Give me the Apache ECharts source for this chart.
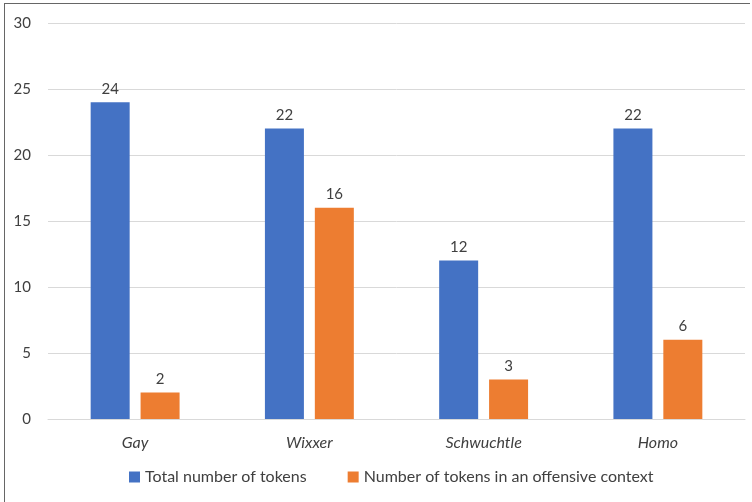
<!DOCTYPE html>
<html>
<head>
<meta charset="utf-8">
<script src="https://cdn.jsdelivr.net/npm/echarts@6/dist/echarts.min.js"></script>
<style>
  html, body { margin: 0; padding: 0; background: #fff; }
  #frame { position: absolute; left: 4px; top: 3px; width: 746px; height: 500px; border-left: 1px solid #666; border-top: 1px solid #666; box-sizing: border-box; }
  #main { position: absolute; left: 0; top: 0; width: 752px; height: 502px; }
</style>
</head>
<body>
<div id="frame"></div>
<div id="main"></div>
<script>
var categories = ['Gay', 'Wixxer', 'Schwuchtle', 'Homo'];
var totalTokens = [24, 22, 12, 22];
var offensiveTokens = [2, 16, 3, 6];
var seriesNames = ['Total number of tokens', 'Number of tokens in an offensive context'];

var myChart = echarts.init(document.getElementById('main'));
var font = 'Lato, "Open Sans", sans-serif';
option = {
    animation: false,
    textStyle: { fontFamily: font },
    grid: { left: 48, right: 7, top: 23, bottom: 83 },
    legend: {
        data: seriesNames,
        bottom: 12,
        left: 124,
        itemWidth: 11,
        itemHeight: 11,
        itemGap: 41,
        icon: 'rect',
        textStyle: { fontFamily: font, fontSize: 16, color: '#404040' }
    },
    xAxis: {
        type: 'category',
        data: categories,
        axisLine: { lineStyle: { color: '#d9d9d9' } },
        axisTick: { show: false },
        axisLabel: { fontStyle: 'italic', fontSize: 16, color: '#404040', margin: 16, fontFamily: font }
    },
    yAxis: {
        type: 'value',
        min: 0,
        max: 30,
        interval: 5,
        axisLine: { show: false },
        axisTick: { show: false },
        splitLine: { lineStyle: { color: '#d9d9d9' } },
        axisLabel: { fontSize: 15, color: '#404040', margin: 17, fontFamily: font }
    },
    series: [
        {
            name: seriesNames[0],
            type: 'bar',
            data: totalTokens,
            barWidth: 39,
            barGap: '28%',
            itemStyle: { color: '#4472C4' },
            label: { show: true, position: 'top', distance: 6, fontSize: 15, color: '#404040', fontFamily: font }
        },
        {
            name: seriesNames[1],
            type: 'bar',
            data: offensiveTokens,
            barWidth: 39,
            itemStyle: { color: '#ED7D31' },
            label: { show: true, position: 'top', distance: 6, fontSize: 15, color: '#404040', fontFamily: font }
        }
    ]
};
myChart.setOption(option);
</script>
</body>
</html>
